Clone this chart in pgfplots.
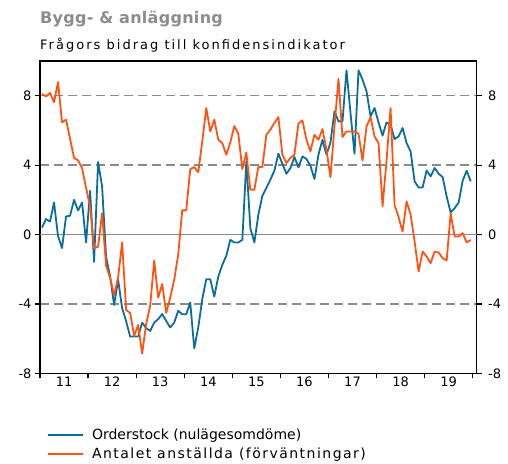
\documentclass[border=0pt]{standalone}
\usepackage{fontspec}
\setmainfont{DejaVu Sans}
\usepackage{pgfplots}
\usepackage{pgfplotstable}
\pgfplotsset{compat=1.18}
\definecolor{cBlue}{HTML}{0B6E99}
\definecolor{cOrange}{HTML}{FF5314}
\definecolor{cGrid}{HTML}{8A8A8A}
\definecolor{cTitle}{HTML}{8C8C8C}

% m = month index, 0 = Jan 2011
\pgfplotstableread{
m b o
0 0.40 8.10
1 0.89 7.96
2 0.75 8.16
3 1.85 7.62
4 -0.10 8.79
5 -0.78 6.46
6 1.04 6.62
7 1.08 5.52
8 2.00 4.41
9 1.39 4.27
10 1.85 3.83
11 -0.46 2.68
12 2.52 1.62
13 -1.58 -0.80
14 4.18 -0.70
15 2.77 1.23
16 -1.30 -1.80
17 -2.42 -2.50
18 -4.06 -3.50
19 -2.61 -2.45
20 -4.25 -0.46
21 -5.00 -4.35
22 -5.88 -4.52
23 -5.88 -5.85
24 -5.88 -5.21
25 -5.08 -6.86
26 -5.40 -5.15
27 -5.56 -4.12
28 -5.08 -1.50
29 -4.88 -3.64
30 -4.58 -2.85
31 -4.98 -4.52
32 -5.36 -3.64
33 -5.08 -2.60
34 -4.40 -1.15
35 -4.60 1.39
36 -4.60 1.39
37 -3.92 3.77
38 -6.56 3.89
39 -5.36 3.58
40 -3.73 5.37
41 -2.58 7.29
42 -2.58 5.94
43 -3.58 6.62
44 -2.42 5.46
45 -1.75 5.27
46 -1.23 4.60
47 -0.31 5.31
48 -0.46 6.25
49 -0.46 5.80
50 -0.31 3.77
51 4.21 4.73
52 0.37 2.58
53 -0.46 2.58
54 1.14 3.90
55 2.23 3.89
56 2.68 5.75
57 3.16 6.04
58 3.68 6.43
59 4.66 6.77
60 4.08 4.60
61 3.50 4.12
62 3.83 4.41
63 4.47 4.60
64 3.87 6.39
65 4.50 6.58
66 4.35 5.46
67 3.96 4.79
68 3.20 5.75
69 4.60 5.46
70 5.46 6.08
71 4.60 4.89
72 5.30 3.30
73 7.10 6.23
74 6.52 8.97
75 6.52 5.62
76 9.46 5.94
77 7.00 5.94
78 4.66 5.94
79 9.46 5.81
80 8.93 4.27
81 8.25 6.23
82 6.81 6.77
83 7.29 5.65
84 6.46 5.27
85 5.70 1.62
86 6.46 4.27
87 6.33 7.29
88 5.50 1.71
89 5.65 1.00
90 6.14 0.17
91 5.27 1.90
92 4.79 1.15
93 3.06 -0.40
94 2.71 -2.13
95 2.71 -0.98
96 3.69 -1.27
97 3.35 -1.65
98 3.83 -0.98
99 3.50 -1.04
100 3.31 -1.36
101 2.19 -1.50
102 1.27 1.23
103 1.52 -0.12
104 1.85 -0.12
105 3.10 0.08
106 3.68 -0.46
107 3.06 -0.31
}\data

\begin{document}
\begin{tikzpicture}
\useasboundingbox (-40pt,-89.7pt) rectangle (468pt,373.3pt);
\node[anchor=base west, inner sep=0pt, font=\fontsize{16}{19}\selectfont\bfseries\addfontfeature{LetterSpace=1.8}, text=cTitle] at (0pt,349.5pt) {Bygg- \& anläggning};
\node[anchor=base west, inner sep=0pt, font=\fontsize{13}{16}\selectfont\addfontfeature{LetterSpace=15.5}] at (0pt,323.5pt) {Frågors bidrag till konfidensindikator};
\begin{axis}[
    at={(0pt,0pt)}, anchor=south west,
    scale only axis,
    width=436.7pt, height=312.3pt,
    xmin=-0.5, xmax=108.5,
    ymin=-8, ymax=10,
    axis line style={line width=1.4pt, black},
    tick align=outside,
    major tick length=5pt,
    tick style={line width=1.2pt, black},
    xtick={-0.5,11.5,...,107.5},
    xticklabels={},
    extra x ticks={5.5,17.5,...,101.5},
    extra x tick labels={11,12,13,14,15,16,17,18,19},
    extra x tick style={major tick length=0pt, tick style={draw=none}},
    xtick pos=bottom,
    ytick={-8,-4,0,4,8},
    ytick pos=both,
    yticklabel pos=left,
    ymajorgrids,
    grid style={cGrid, line width=1.5pt, dash pattern=on 9pt off 5pt},
    extra y ticks={0},
    extra y tick labels={},
    extra y tick style={grid style={cGrid, line width=1.5pt, solid}},
    /pgf/number format/assume math mode=true,
    tick label style={font=\fontsize{13}{16}\selectfont},
    legend style={at={(0,0)}, anchor=north west, xshift=4pt, yshift=-51.5pt,
      draw=none, fill=none, font=\fontsize{14}{17}\selectfont, row sep=3pt,
      /tikz/every odd column/.append style={column sep=6pt}},
    legend cell align=left,
    legend image code/.code={\draw[#1, line width=1.8pt] (0pt,0pt) -- (35pt,0pt);},
]
\addplot[cBlue, line width=1.8pt, line join=round] table[x=m, y=b] {\data};
\addplot[cOrange, line width=1.8pt, line join=round] table[x=m, y=o] {\data};
\legend{Orderstock (nulägesomdöme), {\addfontfeature{LetterSpace=10.5}Antalet anställda (förväntningar)}}
\end{axis}
\begin{axis}[
    at={(0pt,0pt)}, anchor=south west,
    scale only axis,
    width=436.7pt, height=312.3pt,
    xmin=-0.5, xmax=108.5,
    ymin=-8, ymax=10,
    axis x line=none,
    axis y line*=right,
    y axis line style={draw=none},
    major tick length=5pt,
    tick align=outside,
    tick style={draw=none},
    ytick={-8,-4,0,4,8},
    /pgf/number format/assume math mode=true,
    tick label style={font=\fontsize{13}{16}\selectfont, xshift=3pt},
]
\end{axis}
\end{tikzpicture}
\end{document}
